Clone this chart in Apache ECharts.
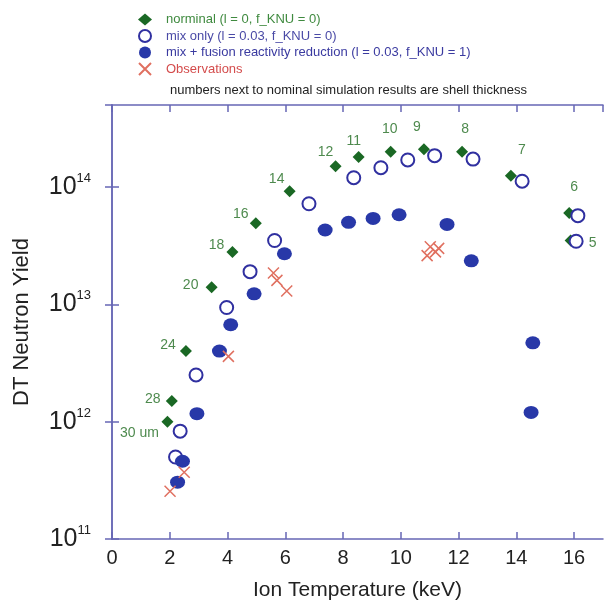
<!DOCTYPE html>
<html>
<head>
<meta charset="utf-8">
<script src="https://cdn.jsdelivr.net/npm/echarts@6/dist/echarts.min.js"></script>
<style>html,body{margin:0;padding:0;background:#fff;}#c{width:604px;height:608px;}</style>
</head>
<body>
<div id="c"></div>
<script>
// ---- data ----
const xTicks = [0, 2, 4, 6, 8, 10, 12, 14, 16];
const yTickExponents = [11, 12, 13, 14];

const nominalT = [1.92, 2.07, 2.56, 3.45, 4.17, 4.98, 6.15, 7.74, 8.54, 9.65, 10.80, 12.12, 13.81, 15.83, 15.88];
const nominalY = [1.0e12, 1.5e12, 4.0e12, 1.4e13, 2.8e13, 4.9e13, 9.2e13, 1.5e14, 1.8e14, 2.0e14, 2.1e14, 2.0e14, 1.25e14, 6.0e13, 3.5e13];
const shellLabels = ['30 um', '28', '24', '20', '18', '16', '14', '12', '11', '10', '9', '8', '7', '6', '5'];

const mixOnlyT = [2.20, 2.36, 2.91, 3.97, 4.78, 5.63, 6.82, 8.37, 9.31, 10.24, 11.17, 12.50, 14.20, 16.13, 16.07];
const mixOnlyY = [5.0e11, 8.3e11, 2.5e12, 9.4e12, 1.9e13, 3.5e13, 7.2e13, 1.2e14, 1.46e14, 1.7e14, 1.85e14, 1.73e14, 1.12e14, 5.7e13, 3.45e13];

const mixFusionT = [2.27, 2.44, 2.94, 3.72, 4.11, 4.92, 5.97, 7.38, 8.19, 9.04, 9.94, 11.60, 12.44, 14.57, 14.51];
const mixFusionY = [3.05e11, 4.6e11, 1.17e12, 4.0e12, 6.7e12, 1.23e13, 2.7e13, 4.3e13, 5.0e13, 5.4e13, 5.8e13, 4.8e13, 2.35e13, 4.7e12, 1.2e12];

const obsT = [2.01, 2.50, 4.03, 5.59, 5.71, 6.05, 10.91, 11.02, 11.20, 11.31];
const obsY = [2.55e11, 3.7e11, 3.6e12, 1.85e13, 1.6e13, 1.3e13, 2.6e13, 3.1e13, 2.8e13, 3.0e13];

const seriesNames = [
  'norminal (l = 0, f_KNU = 0)',
  'mix only (l = 0.03, f_KNU = 0)',
  'mix + fusion reactivity reduction (l = 0.03, f_KNU = 1)',
  'Observations'
];
const noteText = 'numbers next to nominal simulation results are shell thickness';

// ---- label placement (style, separate from data) ----
const shellLabelOffset = [[-28, 11], [-19, -2], [-18, -6], [-21, -2], [-16, -7], [-15, -9], [-13, -12], [-10, -14], [-5, -16], [-1, -23], [-7, -22], [3, -23], [11, -25], [5, -26], [22, 3]];

const FONT = '"Liberation Sans", Arial, sans-serif';
const AXIS_COLOR = '#6767b5';
const C_GREEN = '#1a6824';
const C_BLUE_OPEN = '#3030a0';
const C_BLUE = '#2838a8';
const C_RED = '#e07060';

const zip = (a, b) => a.map((v, i) => [v, b[i]]);

const chart = echarts.init(document.getElementById('c'), null, {renderer: 'canvas'});

const yLabelFmt = v => {
  const e = Math.round(Math.log10(v));
  if (yTickExponents.indexOf(e) < 0 || Math.abs(Math.log10(v) - e) > 1e-6) return '';
  return '{b|10}{s|' + e + '}';
};

const axisCommon = {
  axisLine: {show: true, lineStyle: {color: AXIS_COLOR, width: 1.5}},
  axisTick: {show: true, inside: true, length: 7, lineStyle: {color: AXIS_COLOR, width: 1.5}},
  splitLine: {show: false},
  minorTick: {show: false}
};

const option = {
  backgroundColor: '#fff',
  animation: false,
  textStyle: {fontFamily: FONT},
  title: {
    text: noteText,
    left: 165, top: 79,
    textStyle: {fontFamily: FONT, fontSize: 13, fontWeight: 'normal', color: '#222'}
  },
  legend: {
    orient: 'vertical',
    left: 133, top: 8,
    itemWidth: 14, itemHeight: 12, itemGap: 3,
    textStyle: {fontFamily: FONT, fontSize: 13, padding: [0, 0, 0, 9]},
    data: [
      {name: seriesNames[0], textStyle: {color: '#3f8a3f'}},
      {name: seriesNames[1], textStyle: {color: '#4a4aa6'}},
      {name: seriesNames[2], textStyle: {color: '#3a3aa0'}},
      {name: seriesNames[3], textStyle: {color: '#d44c4c'}}
    ]
  },
  grid: {left: 112, right: 1, top: 105, bottom: 69, containLabel: false},
  xAxis: [
    Object.assign({
      type: 'value', min: 0, max: 17, interval: 2, position: 'bottom',
      name: 'Ion Temperature (keV)', nameLocation: 'middle', nameGap: 41,
      nameTextStyle: {fontFamily: FONT, fontSize: 21, color: '#222'},
      axisLabel: {
        fontFamily: FONT, fontSize: 20, color: '#222', margin: 9,
        showMaxLabel: false,
        formatter: v => (xTicks.indexOf(v) >= 0 ? String(v) : '')
      }
    }, axisCommon),
    Object.assign({
      type: 'value', min: 0, max: 17, interval: 2, position: 'top',
      axisLabel: {show: false}
    }, axisCommon)
  ],
  yAxis: [
    Object.assign({
      type: 'log', logBase: 10, min: 1e11, max: 5e14, position: 'left',
      name: 'DT Neutron Yield', nameLocation: 'middle', nameGap: 79,
      nameTextStyle: {fontFamily: FONT, fontSize: 22, color: '#222'},
      axisLabel: {
        margin: 21, showMaxLabel: false,
        formatter: yLabelFmt,
        rich: {
          b: {fontFamily: FONT, fontSize: 25, color: '#222', lineHeight: 30},
          s: {fontFamily: FONT, fontSize: 13, color: '#222', lineHeight: 13, verticalAlign: 'top'}
        }
      }
    }, axisCommon),
    Object.assign({
      type: 'log', logBase: 10, min: 1e11, max: 5e14, position: 'right',
      axisLabel: {show: false}
    }, axisCommon)
  ],
  series: [
    {
      name: seriesNames[0], type: 'scatter', symbol: 'diamond', symbolSize: 12,
      itemStyle: {color: C_GREEN, opacity: 1},
      z: 3,
      data: zip(nominalT, nominalY).map((p, i) => ({
        value: p,
        label: {
          show: true, position: 'inside', formatter: shellLabels[i],
          offset: shellLabelOffset[i], align: 'center', verticalAlign: 'middle',
          fontFamily: FONT, fontSize: 14, color: '#4e8a4e'
        }
      }))
    },
    {
      name: seriesNames[1], type: 'scatter', symbol: 'circle', symbolSize: 13,
      itemStyle: {color: '#fff', borderColor: C_BLUE_OPEN, borderWidth: 2, opacity: 1},
      z: 4,
      data: zip(mixOnlyT, mixOnlyY)
    },
    {
      name: seriesNames[2], type: 'scatter', symbol: 'circle', symbolSize: [15, 13],
      itemStyle: {color: C_BLUE, opacity: 1},
      z: 5,
      data: zip(mixFusionT, mixFusionY)
    },
    {
      name: seriesNames[3], type: 'scatter', symbol: 'path://M0,0L10,10M10,0L0,10', symbolSize: 11,
      itemStyle: {color: 'rgba(0,0,0,0)', borderColor: C_RED, borderWidth: 1.5, opacity: 1},
      z: 6,
      data: zip(obsT, obsY)
    }
  ]
};

chart.setOption(option);
</script>
</body>
</html>
